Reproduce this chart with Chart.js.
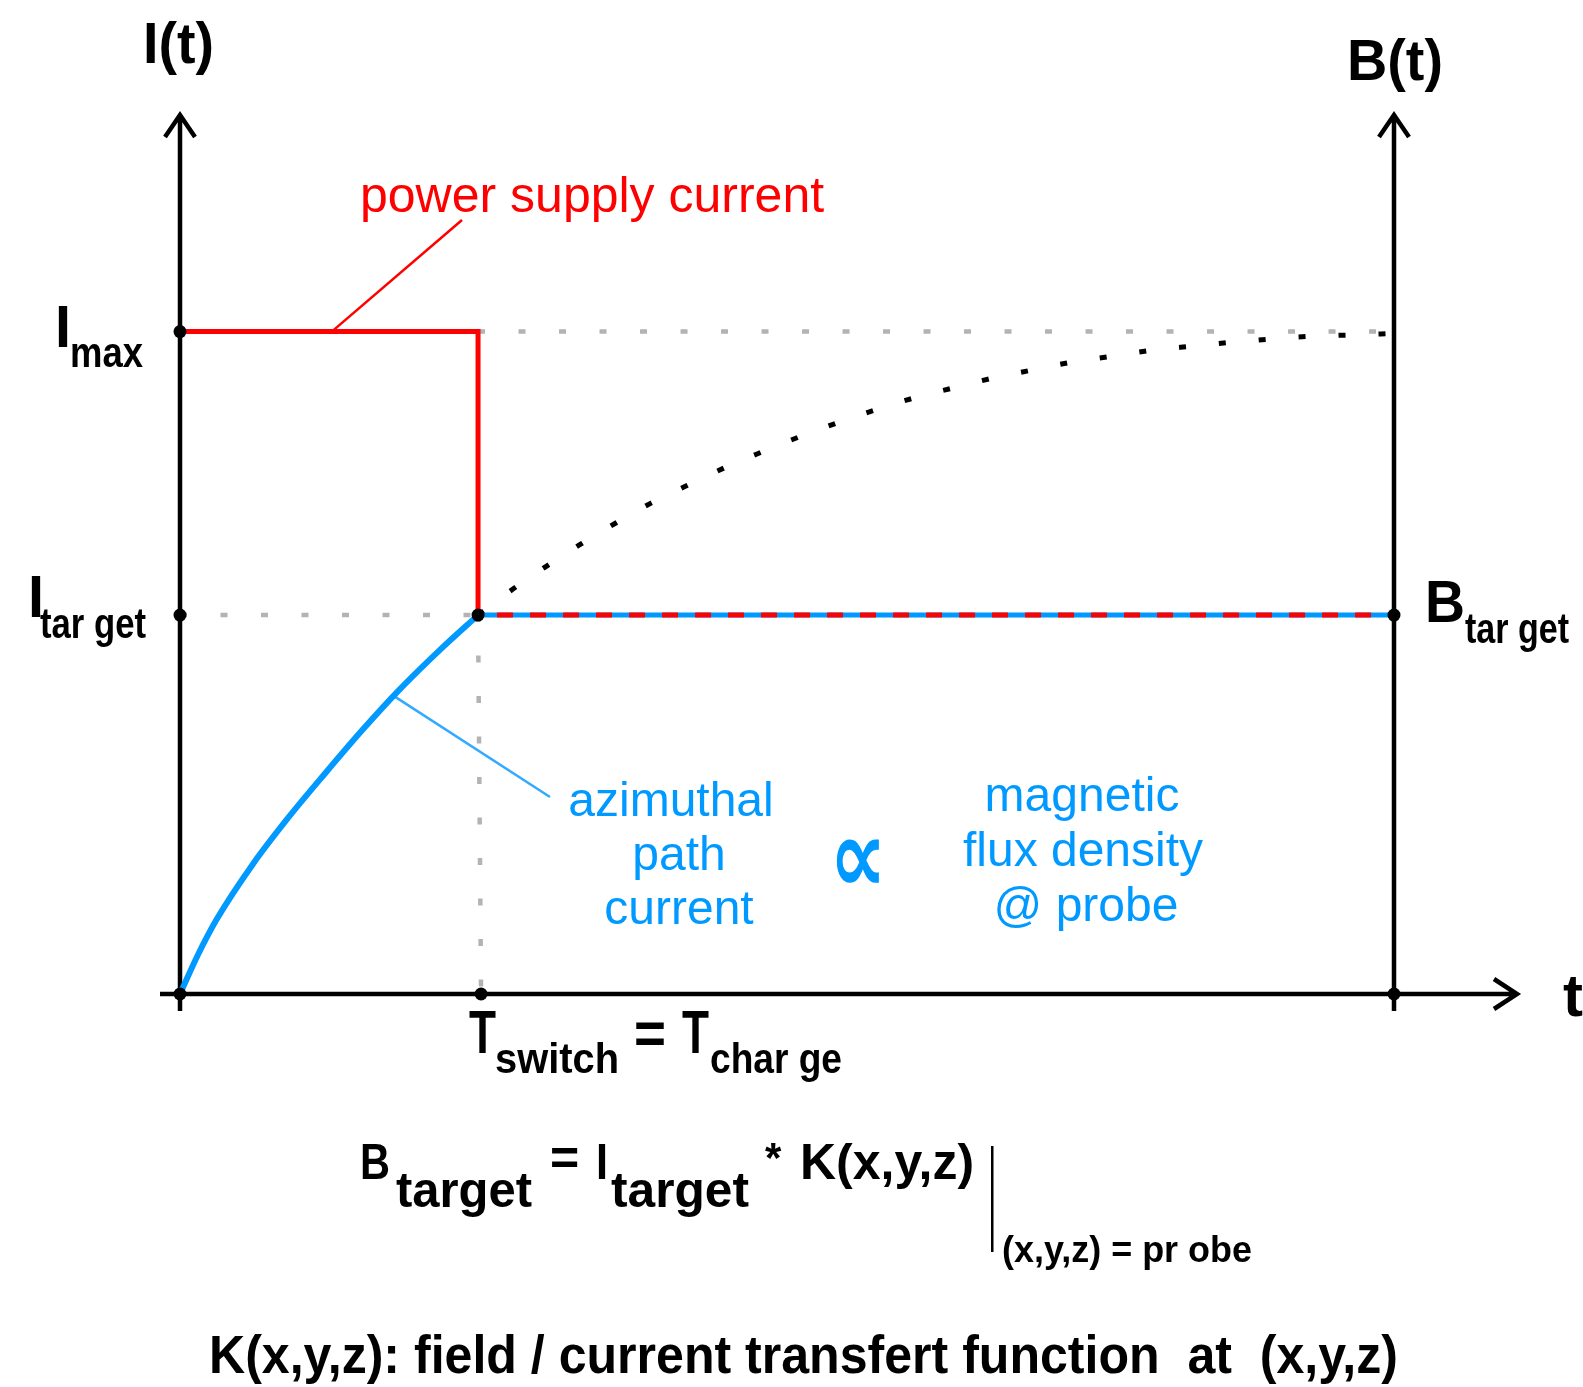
<!DOCTYPE html>
<html>
<head>
<meta charset="utf-8">
<script src="https://cdn.jsdelivr.net/npm/chart.js@4.4.1/dist/chart.umd.min.js"></script>
<style>
  html, body { margin: 0; padding: 0; background: #fff; }
</style>
</head>
<body>
<canvas id="chargeChart" width="1583" height="1387"></canvas>
<script>
// values (time in % of the window, current in units of Imax)
var tSwitch = 24.55;
var tEnd = 100;
var iMax = 1.0;
var iTarget = 0.572;

// azimuthal path current while charging (blue curve)
var chargeT = [0, 1.5, 3, 6, 9, 12, 15, 18, 21.5, 24.55];
var chargeI = [0, 0.06, 0.112, 0.196, 0.268, 0.334, 0.398, 0.458, 0.521, 0.572];

// what the current would do if the supply stayed at Imax (black dotted)
var freeT = [24.55, 27.4, 30.2, 33.0, 35.9, 38.8, 41.8, 44.8, 47.9, 51.0, 54.1, 57.3, 60.5,
             63.7, 67.0, 70.2, 73.5, 76.8, 80.1, 83.4, 86.7, 90.0, 93.3, 96.7, 100];
var freeI = [0.572, 0.611, 0.646, 0.679, 0.711, 0.741, 0.768, 0.794, 0.818, 0.841, 0.862, 0.882, 0.900,
             0.915, 0.930, 0.942, 0.954, 0.963, 0.972, 0.978, 0.984, 0.989, 0.993, 0.995, 0.997];

// power supply current: step from Imax down to Itarget at T_switch
var supplyT = [0, tSwitch, tSwitch];
var supplyI = [iMax, iMax, iTarget];

// marked points on the axes
var markT = [0, 0, 0, tSwitch, 24.8, tEnd, tEnd];
var markI = [iMax, iTarget, 0, iTarget, 0, iTarget, 0];

var RED = '#ff0000';
var BLUE = '#0099ff';
var GREY = '#b3b3b3';

function pts(xs, ys) {
    return xs.map(function (x, i) { return { x: x, y: ys[i] }; });
}

// axes, arrows and all the labels
var diagramPlugin = {
    id: 'diagram',
    beforeDatasetsDraw: function (chart) {
        var ctx = chart.ctx;
        var xs = chart.scales.x, ys = chart.scales.y;
        var x0 = xs.getPixelForValue(0), x1 = xs.getPixelForValue(tEnd);
        var y0 = ys.getPixelForValue(0), top = chart.chartArea.top;
        ctx.save();
        ctx.strokeStyle = '#000';
        ctx.lineWidth = 4.5;
        ctx.lineJoin = 'miter';
        ctx.beginPath();
        // vertical axes
        [x0, x1].forEach(function (ax) {
            ctx.moveTo(ax, y0 + 17);
            ctx.lineTo(ax, top + 2);
            ctx.moveTo(ax - 15, top + 24);
            ctx.lineTo(ax, top + 2);
            ctx.lineTo(ax + 15, top + 24);
        });
        // time axis
        var tip = x1 + 123;
        ctx.moveTo(x0 - 20, y0);
        ctx.lineTo(tip, y0);
        ctx.moveTo(tip - 23, y0 - 15);
        ctx.lineTo(tip, y0);
        ctx.lineTo(tip - 23, y0 + 15);
        ctx.stroke();

        // leader lines
        ctx.lineWidth = 2.5;
        ctx.strokeStyle = RED;
        ctx.beginPath();
        ctx.moveTo(xs.getPixelForValue(12.5), ys.getPixelForValue(iMax));
        ctx.lineTo(462, 220);
        ctx.stroke();
        ctx.strokeStyle = '#33aaff';
        ctx.beginPath();
        ctx.moveTo(xs.getPixelForValue(17.6), ys.getPixelForValue(0.45));
        ctx.lineTo(550, 797);
        ctx.stroke();
        ctx.restore();
    },
    afterDraw: function (chart) {
        var ctx = chart.ctx;
        var F = 'Liberation Sans, Arial, sans-serif';
        function txt(s, x, y, size, bold, color, maxW, align) {
            ctx.font = (bold ? 'bold ' : '') + size + 'px ' + F;
            ctx.fillStyle = color || '#000';
            ctx.textAlign = align || 'left';
            ctx.textBaseline = 'alphabetic';
            if (maxW) ctx.fillText(s, x, y, maxW); else ctx.fillText(s, x, y);
        }
        ctx.save();
        // axis titles
        txt('I(t)', 143, 63, 57, true, '#000', 71);
        txt('B(t)', 1347, 80, 57, true, '#000', 96);
        txt('t', 1563, 1016, 60, true);

        // level labels
        txt('I', 55, 347, 60, true, '#000', 16);
        txt('max', 70, 367, 42, true, '#000', 73);
        txt('I', 28, 617, 60, true, '#000', 16);
        txt('tar get', 40, 638, 42, true, '#000', 106);
        txt('B', 1425, 622, 60, true, '#000', 40);
        txt('tar get', 1465, 643, 42, true, '#000', 104);

        // switch time
        txt('T', 469, 1053, 62, true, '#000', 27);
        txt('switch', 495, 1073, 42, true, '#000', 124);
        txt('=', 634, 1053, 60, true, '#000', 32);
        txt('T', 682, 1053, 62, true, '#000', 27);
        txt('char ge', 710, 1073, 42, true, '#000', 132);

        // curve labels
        txt('power supply current', 360, 212, 50, false, RED, 468);
        txt('azimuthal', 671, 816, 48, false, BLUE, 216, 'center');
        txt('path', 679, 870, 48, false, BLUE, 97, 'center');
        txt('current', 679, 924, 48, false, BLUE, 155, 'center');
        txt('magnetic', 1082, 811, 48, false, BLUE, 209, 'center');
        txt('flux density', 1083, 866, 48, false, BLUE, 253, 'center');
        txt('@ probe', 1086, 921, 48, false, BLUE, 197, 'center');
        ctx.font = 'bold 104px DejaVu Sans, sans-serif';
        ctx.fillStyle = BLUE;
        ctx.textAlign = 'center';
        ctx.fillText('\u221D', 858, 892, 57);

        // formula
        txt('B', 360, 1179, 50, true, '#000', 30);
        txt('target', 396, 1207, 50, true, '#000', 136);
        txt('=', 550, 1175, 50, true, '#000', 33);
        txt('I', 596, 1179, 50, true, '#000', 12);
        txt('target', 611, 1207, 50, true, '#000', 138);
        txt('*', 765, 1172, 42, true, '#000', 18);
        txt('K(x,y,z)', 800, 1179, 50, true, '#000', 179);
        ctx.fillStyle = '#000';
        ctx.fillRect(991, 1146, 2.5, 106);
        txt('(x,y,z) = pr obe', 1002, 1262, 37, true, '#000', 250);

        txt('K(x,y,z): field / current transfert function  at  (x,y,z)', 209, 1373, 54, true, '#000', 1189);
        ctx.restore();
    }
};

var ctx = document.getElementById('chargeChart').getContext('2d');

var chargeChart = new Chart(ctx, {
    type: 'line',
    data: {
        datasets: [
            // first dataset is drawn on top
            {
                label: 'marks',
                data: pts(markT, markI),
                showLine: false,
                pointRadius: 6.5,
                pointBackgroundColor: '#000',
                pointBorderWidth: 0,
                clip: false
            },
            {
                label: 'supply after switch',
                data: pts([tSwitch, tEnd], [iTarget, iTarget]),
                borderColor: RED,
                borderWidth: 5,
                borderDash: [16, 17],
                borderDashOffset: 14,
                pointRadius: 0,
                clip: false
            },
            {
                label: 'path current after switch',
                data: pts([tSwitch, tEnd], [iTarget, iTarget]),
                borderColor: BLUE,
                borderWidth: 5,
                pointRadius: 0,
                clip: false
            },
            {
                label: 'power supply current',
                data: pts(supplyT, supplyI),
                borderColor: RED,
                borderWidth: 5,
                borderJoinStyle: 'miter',
                pointRadius: 0,
                clip: false
            },
            {
                label: 'azimuthal path current',
                data: pts(chargeT, chargeI),
                borderColor: BLUE,
                borderWidth: 6,
                cubicInterpolationMode: 'monotone',
                pointRadius: 0,
                clip: false
            },
            {
                label: 'charge at Imax',
                data: pts(freeT, freeI),
                borderColor: '#000',
                borderWidth: 5,
                borderDash: [7, 33],
                cubicInterpolationMode: 'monotone',
                pointRadius: 0,
                clip: false
            },
            // grey guide lines
            {
                label: 'Imax level',
                data: pts([tSwitch, tEnd], [iMax, iMax]),
                borderColor: GREY,
                borderWidth: 4.5,
                borderDash: [7, 33.5],
                pointRadius: 0,
                clip: false
            },
            {
                label: 'Itarget level',
                data: pts([0, tSwitch], [iTarget, iTarget]),
                borderColor: GREY,
                borderWidth: 4.5,
                borderDash: [7, 33.5],
                pointRadius: 0,
                clip: false
            },
            {
                label: 'switch time',
                data: pts([tSwitch, 24.8], [iTarget, 0]),
                borderColor: GREY,
                borderWidth: 4.5,
                borderDash: [7, 33.5],
                pointRadius: 0,
                clip: false
            }
        ]
    },
    options: {
        responsive: false,
        animation: false,
        layout: {
            padding: { left: 180, right: 189, top: 113, bottom: 393 }
        },
        plugins: {
            legend: { display: false },
            tooltip: { enabled: false }
        },
        scales: {
            x: { type: 'linear', min: 0, max: tEnd, display: false },
            y: { min: 0, max: 1.33, display: false }
        }
    },
    plugins: [diagramPlugin]
});
</script>
</body>
</html>
